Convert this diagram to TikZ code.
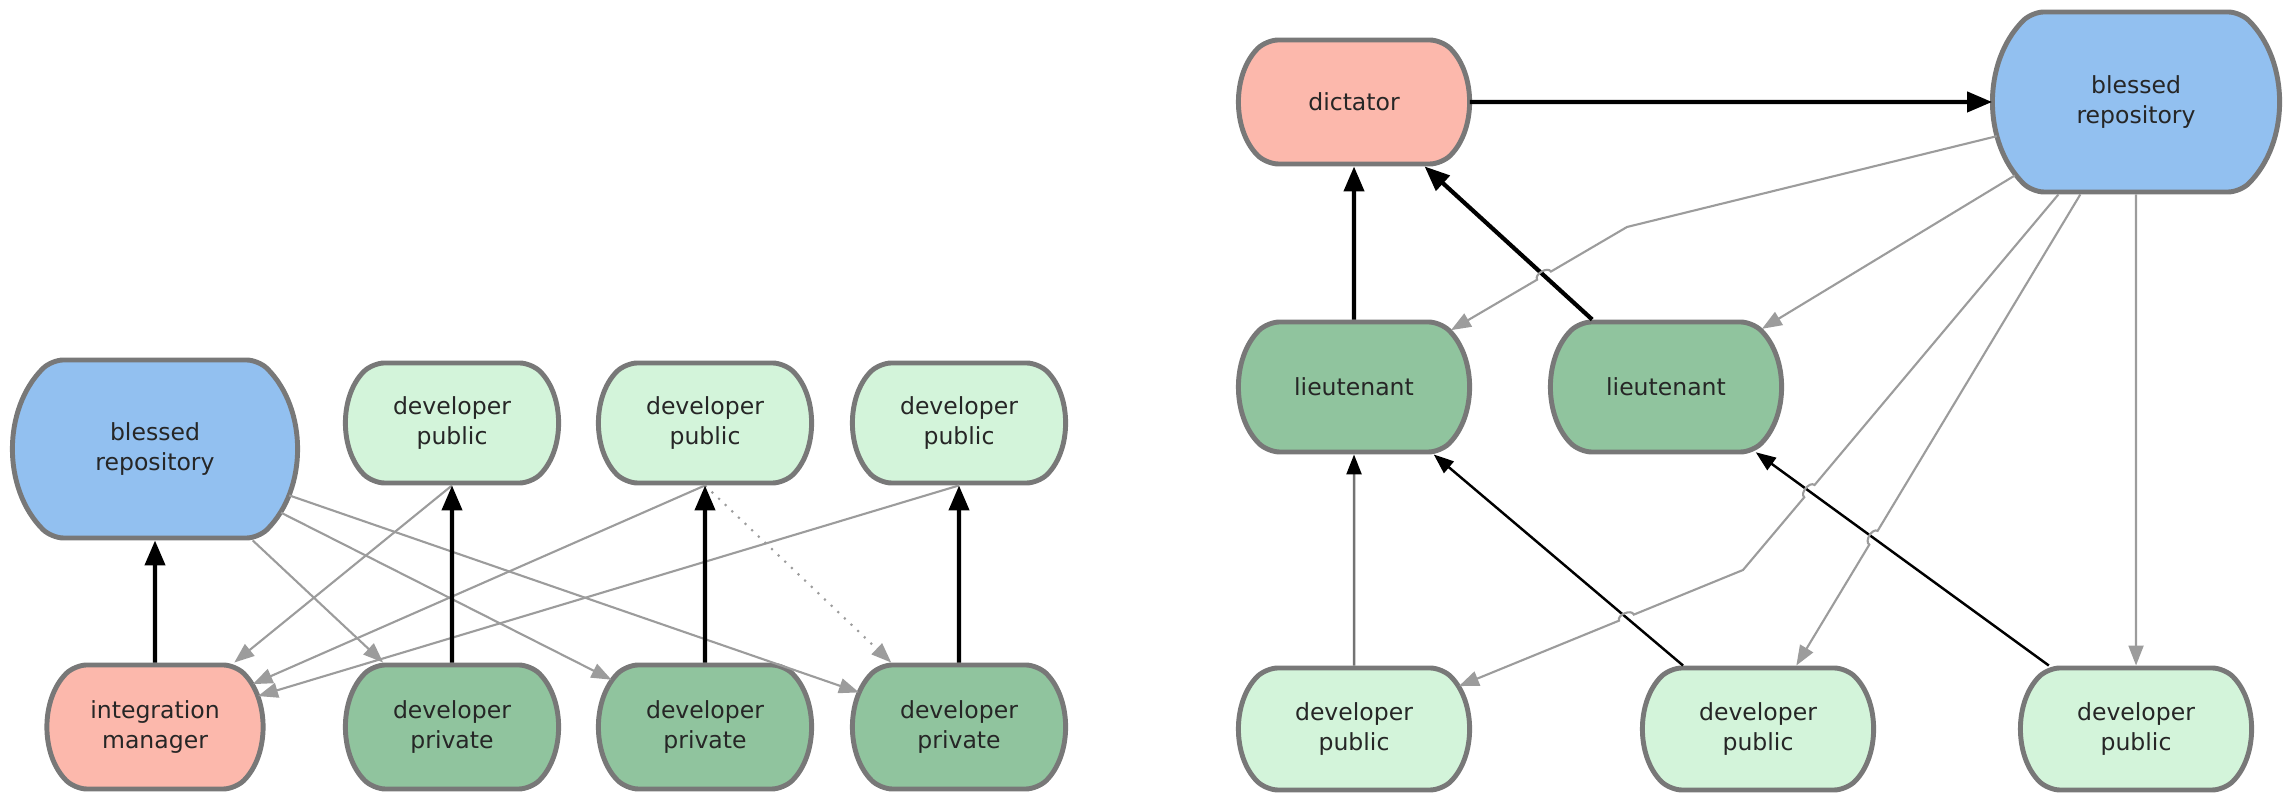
\documentclass[tikz,border=0pt]{standalone}
\usepackage{fontspec}
\setmainfont{DejaVu Sans}
\usepackage{xcolor}
\usepackage{tikz}
\usetikzlibrary{arrows.meta}
\usetikzlibrary{shapes.misc}
\usetikzlibrary{calc}

\definecolor{blessblue}{HTML}{92C0F0}
\definecolor{bosspink}{HTML}{FCB8AC}
\definecolor{publight}{HTML}{D3F4DA}
\definecolor{privdark}{HTML}{90C49E}
\definecolor{rimgray}{HTML}{787878}
\definecolor{wiregray}{HTML}{9C9C9C}

\tikzset{
  repo/.style={rounded rectangle, rounded rectangle arc length=90,
    rounded corners=0.12cm,
    draw=rimgray, line width=1.4pt, align=center, text=black!85,
    font=\fontsize{6.7}{8.3}\selectfont, inner sep=1pt,
    minimum width=2.34cm, minimum height=1.24cm},
  blessed/.style={repo, fill=blessblue, minimum width=2.88cm, minimum height=1.78cm},
  boss/.style={repo, fill=bosspink},
  pub/.style={repo, fill=publight},
  priv/.style={repo, fill=privdark},
  push/.style={-{Triangle[length=2.5mm,width=2mm]}, line width=1.2pt},
  send/.style={-{Triangle[length=2mm,width=1.5mm,color=black]}, line width=0.7pt},
  pull/.style={-{Triangle[length=2mm,width=1.5mm]}, wiregray, line width=0.6pt},
  hop/.style={bend right=90},
}

\begin{document}
\begin{tikzpicture}
    \useasboundingbox (0,0) rectangle (22.93,7.95);

    % integration manager workflow
    \node[blessed] (blessL) at (1.55,3.46) {blessed\\repository};
    \node[pub, minimum width=2.16cm, minimum height=1.20cm] (pubA) at (4.52,3.72) {developer\\public};
    \node[pub, minimum width=2.16cm, minimum height=1.20cm] (pubB) at (7.05,3.72) {developer\\public};
    \node[pub, minimum width=2.16cm, minimum height=1.20cm] (pubC) at (9.59,3.72) {developer\\public};
    \node[boss, minimum width=2.19cm] (integ) at (1.55,0.68) {integration\\manager};
    \node[priv, minimum width=2.16cm] (privA) at (4.52,0.68) {developer\\private};
    \node[priv, minimum width=2.16cm] (privB) at (7.05,0.68) {developer\\private};
    \node[priv, minimum width=2.16cm] (privC) at (9.59,0.68) {developer\\private};

    \draw[pull] (blessL) -- (privA);
    \draw[pull] (blessL) -- (privB);
    \draw[pull] (blessL) -- (privC);
    \draw[pull] (pubA.south) -- (integ);
    \draw[pull] (pubB.south) -- (integ);
    \draw[pull] (pubC.south) -- (integ);
    \draw[pull, dotted] (pubB.south) -- (privC);

    \draw[push] (integ) -- (blessL);
    \draw[push] (privA) -- (pubA);
    \draw[push] (privB) -- (pubB);
    \draw[push] (privC) -- (pubC);

    % dictator and lieutenants workflow
    \node[boss] (dict) at (13.54,6.93) {dictator};
    \node[blessed, minimum width=2.90cm, minimum height=1.80cm] (blessR) at (21.36,6.93) {blessed\\repository};
    \node[priv, minimum height=1.30cm] (lieuA) at (13.54,4.08) {lieutenant};
    \node[priv, minimum height=1.30cm] (lieuB) at (16.66,4.08) {lieutenant};
    \node[pub, minimum height=1.22cm] (devA) at (13.54,0.66) {developer\\public};
    \node[pub, minimum height=1.22cm] (devB) at (17.58,0.66) {developer\\public};
    \node[pub, minimum height=1.22cm] (devC) at (21.36,0.66) {developer\\public};

    \coordinate (bendL) at (16.27,5.68);
    \coordinate (bendD) at (17.43,2.25);
    \coordinate (j1) at (intersection of bendL--lieuA and lieuB--dict);
    \coordinate (j2) at (intersection of blessR--bendD and devC--lieuB);
    \coordinate (j3) at (intersection of bendD--devA and devB--lieuA);
    \coordinate (j4) at (intersection of blessR--devB and devC--lieuB);

    \draw[push] (dict) -- (blessR);
    \draw[push] (lieuA) -- (dict);
    \draw[push] (lieuB) -- (dict);
    \draw[send, draw=black!55] (devA) -- (lieuA);
    \draw[send] (devB) -- (lieuA);
    \draw[send] (devC) -- (lieuB);

    % gray lines hop over the black ones
    \draw[pull] (blessR) -- (bendL) -- ($(j1)!0.08cm!(bendL)$)
        to[hop] ($(j1)!0.08cm!(lieuA)$) -- (lieuA);
    \draw[pull] (blessR) -- (lieuB);
    \draw[pull] (blessR) -- ($(j2)!0.08cm!(blessR)$)
        to[hop] ($(j2)!0.08cm!(bendD)$) -- (bendD) -- ($(j3)!0.08cm!(bendD)$)
        to[hop] ($(j3)!0.08cm!(devA)$) -- (devA);
    \draw[pull] (blessR) -- ($(j4)!0.08cm!(blessR)$)
        to[hop] ($(j4)!0.08cm!(devB)$) -- (devB);
    \draw[pull] (blessR) -- (devC);
\end{tikzpicture}
\end{document}
